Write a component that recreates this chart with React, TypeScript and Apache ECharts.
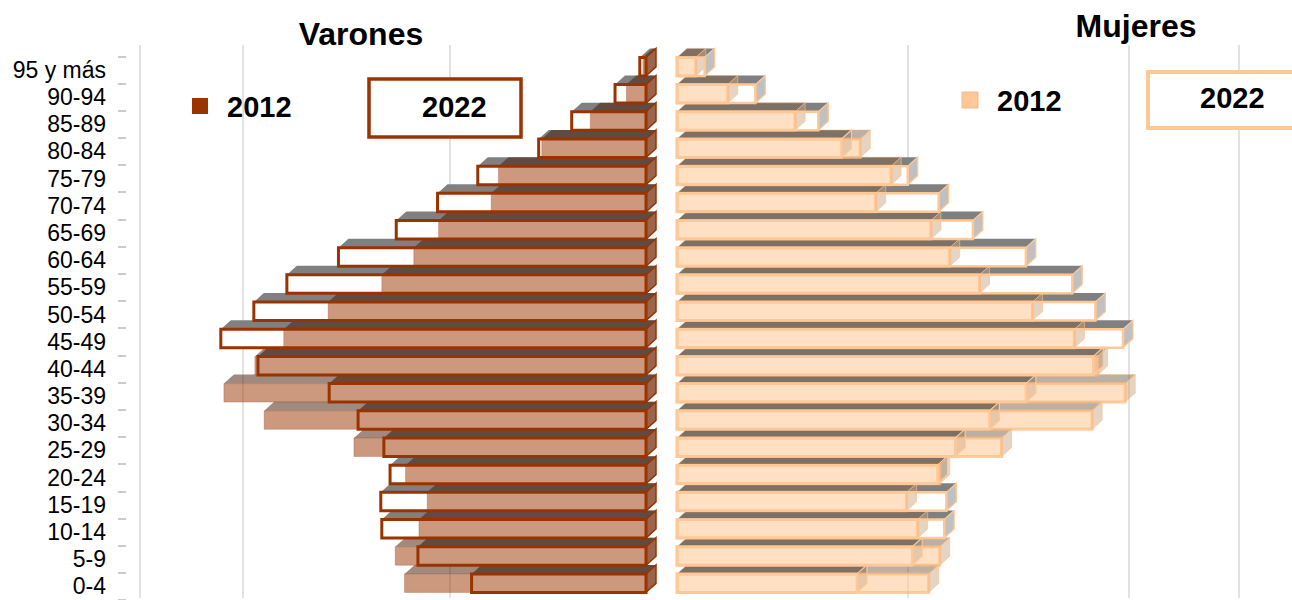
import React, { useEffect, useRef } from "react";
import * as echarts from "echarts";

// Age groups, bottom (0-4) to top (95 y más)
const categories = [
  "0-4", "5-9", "10-14", "15-19", "20-24", "25-29", "30-34", "35-39", "40-44", "45-49",
  "50-54", "55-59", "60-64", "65-69", "70-74", "75-79", "80-84", "85-89", "90-94", "95 y más",
];

// Share of population (%)
const varones2012 = [2.34, 2.43, 2.2, 2.12, 2.33, 2.83, 3.7, 4.09, 3.79, 3.51, 3.08, 2.56, 2.25, 2.01, 1.5, 1.43, 1.01, 0.54, 0.19, 0.03];
const varones2022 = [1.69, 2.21, 2.56, 2.57, 2.48, 2.54, 2.79, 3.07, 3.76, 4.12, 3.8, 3.48, 2.98, 2.42, 2.02, 1.63, 1.04, 0.72, 0.3, 0.06];
const mujeres2012 = [2.28, 2.38, 2.18, 2.08, 2.38, 2.94, 3.76, 4.06, 3.81, 3.6, 3.22, 2.74, 2.47, 2.3, 1.8, 1.94, 1.66, 1.07, 0.46, 0.17];
const mujeres2022 = [1.63, 2.13, 2.42, 2.44, 2.36, 2.52, 2.83, 3.16, 3.77, 4.04, 3.79, 3.58, 3.16, 2.68, 2.37, 2.09, 1.49, 1.28, 0.71, 0.25];

const axisMax = 5;
const axisInterval = 2;

const FONT = '"Liberation Sans", Arial, sans-serif';
const DX = 10;
const DY = 9;
const FT = 12.5;
const FB = 6;

type FaceStyles = { top?: any; side?: any; front?: any };

function makeRender(st: FaceStyles) {
  return (params: any, api: any) => {
    const v = api.value(0);
    const c = api.value(1);
    const a = api.coord([0, c]);
    const b = api.coord([v, c]);
    const xl = Math.min(a[0], b[0]) - DX;
    const xr = Math.max(a[0], b[0]) - DX;
    const yt = a[1] - FT;
    const yb = a[1] + FB;
    const children: any[] = [];
    if (st.top)
      children.push({
        type: "polygon",
        shape: { points: [[xl, yt], [xl + DX, yt - DY], [xr + DX, yt - DY], [xr, yt]] },
        style: st.top,
      });
    if (st.side)
      children.push({
        type: "polygon",
        shape: { points: [[xr, yt], [xr + DX, yt - DY], [xr + DX, yb - DY], [xr, yb]] },
        style: st.side,
      });
    if (st.front)
      children.push({
        type: "rect",
        shape: { x: xl, y: yt, width: xr - xl, height: yb - yt },
        style: st.front,
      });
    return { type: "group", children };
  };
}

const toData = (arr: number[]) => arr.map((v, i) => [v, i]);

export default function App() {
  const ref = useRef<HTMLDivElement>(null);

  useEffect(() => {
    if (!ref.current) return;
    const chart = echarts.init(ref.current, null, { renderer: "svg" });

    const barGridTop = 56.3;
    const barGridHeight = 547.4;

    const hiddenValueX = (gridIndex: number, inverse: boolean) => ({
      type: "value",
      gridIndex,
      inverse,
      min: 0,
      max: axisMax,
      interval: axisInterval,
      show: false,
    });
    const wallX = (gridIndex: number, inverse: boolean) => ({
      type: "value",
      gridIndex,
      inverse,
      min: 0,
      max: axisMax,
      interval: axisInterval,
      axisLine: { show: false },
      axisTick: { show: false },
      axisLabel: { show: false },
      splitLine: { show: true, showMinLine: false, lineStyle: { color: "#d9d9d9", width: 1.5 } },
    });

    const custom = (name: string, data: number[], axis: number, st: FaceStyles) => ({
      type: "custom",
      name,
      xAxisIndex: axis,
      yAxisIndex: axis,
      data: toData(data),
      encode: { x: 0, y: 1 },
      renderItem: makeRender(st),
      silent: true,
    });

    const option: any = {
      animation: false,
      backgroundColor: "#ffffff",
      grid: [
        { left: 140, width: 516, top: barGridTop, height: barGridHeight },
        { left: 687, width: 552, top: barGridTop, height: barGridHeight },
        { left: 140, width: 516, top: 45, height: 553 },
        { left: 687, width: 552, top: 45, height: 553 },
      ],
      xAxis: [hiddenValueX(0, true), hiddenValueX(1, false), wallX(2, true), wallX(3, false)],
      yAxis: [
        {
          type: "category",
          gridIndex: 0,
          position: "left",
          data: categories,
          offset: 14,
          axisLine: { show: true, onZero: false, lineStyle: { color: "rgba(0,0,0,0)", width: 1 } },
          axisTick: { show: true, length: 8, interval: 0, lineStyle: { color: "#cccccc", width: 2 } },
          axisLabel: { interval: 0, margin: 20, fontSize: 23, color: "#000", fontFamily: FONT },
          splitLine: { show: false },
        },
        { type: "category", gridIndex: 1, data: categories, show: false },
        { type: "value", gridIndex: 2, show: false },
        { type: "value", gridIndex: 3, show: false },
      ],
      series: [
        custom("Varones 2022 base", varones2022, 0, {
          top: { fill: "#808080" },
          side: { fill: "#c0c0c0" },
          front: { fill: "#ffffff" },
        }),
        custom("Varones 2012", varones2012, 0, {
          top: { fill: "rgba(66,20,0,0.5)" },
          side: { fill: "rgba(130,40,0,0.6)" },
          front: { fill: "rgba(153,51,0,0.5)", stroke: "rgba(153,51,0,0.25)", lineWidth: 1 },
        }),
        custom("Varones 2022", varones2022, 0, {
          side: { fill: "none", stroke: "#993300", lineWidth: 1.5 },
          front: { fill: "none", stroke: "#993300", lineWidth: 3 },
        }),
        custom("Mujeres 2022 base", mujeres2022, 1, {
          top: { fill: "#808080" },
          side: { fill: "#c0c0c0" },
          front: { fill: "#ffffff" },
        }),
        custom("Mujeres 2012", mujeres2012, 1, {
          top: { fill: "rgba(122,96,72,0.5)", stroke: "rgba(255,190,130,0.5)", lineWidth: 1 },
          side: { fill: "rgba(200,160,120,0.45)", stroke: "rgba(255,190,130,0.6)", lineWidth: 1 },
          front: { fill: "rgba(255,204,153,0.6)", stroke: "rgba(255,185,125,0.7)", lineWidth: 3 },
        }),
        custom("Mujeres 2022", mujeres2022, 1, {
          side: { fill: "none", stroke: "#ffc896", lineWidth: 1.2 },
          front: { fill: "none", stroke: "#ffc896", lineWidth: 2.5 },
        }),
      ],
      graphic: [
        {
          type: "text",
          z: 10,
          style: { text: "Varones", x: 361, y: 34, align: "center", verticalAlign: "middle", fontSize: 32, fontWeight: "bold", fontFamily: FONT, fill: "#000" },
        },
        {
          type: "text",
          z: 10,
          style: { text: "Mujeres", x: 1136, y: 26, align: "center", verticalAlign: "middle", fontSize: 32, fontWeight: "bold", fontFamily: FONT, fill: "#000" },
        },
        { type: "rect", z: 10, shape: { x: 192, y: 98, width: 16, height: 16 }, style: { fill: "#993300" } },
        {
          type: "text",
          z: 10,
          style: { text: "2012", x: 227, y: 107, align: "left", verticalAlign: "middle", fontSize: 29, fontWeight: "bold", fontFamily: FONT, fill: "#000" },
        },
        {
          type: "rect",
          z: 10,
          shape: { x: 369, y: 79, width: 152, height: 58 },
          style: { fill: "#ffffff", stroke: "#993300", lineWidth: 3.5 },
        },
        {
          type: "text",
          z: 11,
          style: { text: "2022", x: 422, y: 107, align: "left", verticalAlign: "middle", fontSize: 29, fontWeight: "bold", fontFamily: FONT, fill: "#000" },
        },
        { type: "rect", z: 10, shape: { x: 962, y: 92, width: 16, height: 16 }, style: { fill: "#ffc896", stroke: "#f5bb88", lineWidth: 1 } },
        {
          type: "text",
          z: 10,
          style: { text: "2012", x: 997, y: 101, align: "left", verticalAlign: "middle", fontSize: 29, fontWeight: "bold", fontFamily: FONT, fill: "#000" },
        },
        {
          type: "rect",
          z: 10,
          shape: { x: 1148, y: 72, width: 160, height: 56 },
          style: { fill: "#ffffff", stroke: "#ffc896", lineWidth: 4 },
        },
        {
          type: "text",
          z: 11,
          style: { text: "2022", x: 1200, y: 98, align: "left", verticalAlign: "middle", fontSize: 29, fontWeight: "bold", fontFamily: FONT, fill: "#000" },
        },
      ],
    };

    chart.setOption(option);
    return () => chart.dispose();
  }, []);

  return (
    <div
      ref={ref}
      style={{ position: "fixed", left: 0, top: 0, width: 1292, height: 600, background: "#fff" }}
    />
  );
}
